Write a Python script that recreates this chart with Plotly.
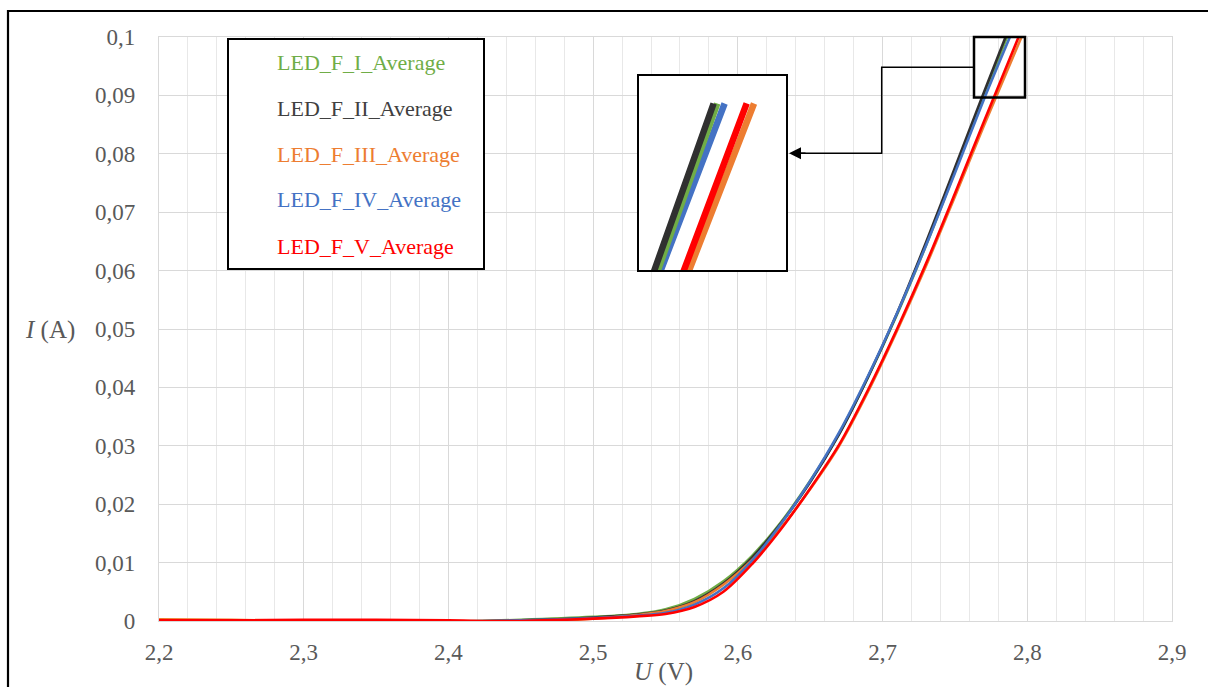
import plotly.graph_objects as go

# ---------------- data ----------------
U = [2.20, 2.25, 2.30, 2.35, 2.40, 2.45, 2.50, 2.53, 2.55, 2.57, 2.59,
     2.61, 2.63, 2.65, 2.67, 2.69, 2.71, 2.73, 2.75, 2.77]

I_F_I = [0.0000, 0.0000, -0.0001, -0.0001, -0.0001, 0.0002, 0.0007, 0.0012, 0.0020, 0.0038, 0.0068,
         0.0112, 0.0170, 0.0240, 0.0321, 0.0418, 0.0525, 0.0643, 0.0770, 0.0898]
I_F_II = [0.0000, 0.0000, 0.0000, -0.0001, -0.0001, 0.0001, 0.0006, 0.0011, 0.0018, 0.0034, 0.0064,
          0.0109, 0.0168, 0.0238, 0.0320, 0.0418, 0.0527, 0.0648, 0.0776, 0.0905]
I_F_III = [0.0003, 0.0002, 0.0000, -0.0002, -0.0003, -0.0003, 0.0004, 0.0010, 0.0017, 0.0032, 0.0062,
           0.0105, 0.0160, 0.0226, 0.0300, 0.0393, 0.0497, 0.0608, 0.0727, 0.0848]
I_F_IV = [-0.0001, -0.0001, -0.0001, -0.0001, -0.0001, 0.0001, 0.0005, 0.0009, 0.0014, 0.0028, 0.0056,
          0.0104, 0.0167, 0.0240, 0.0323, 0.0420, 0.0527, 0.0643, 0.0767, 0.0893]
I_F_V = [0.0001, 0.0001, 0.0002, 0.0002, 0.0001, 0.0000, 0.0004, 0.0008, 0.0012, 0.0024, 0.0050,
         0.0098, 0.0158, 0.0227, 0.0302, 0.0396, 0.0500, 0.0612, 0.0732, 0.0855]

# final point of each sweep (current limit reached)
U_end = [2.786, 2.785, 2.796, 2.788, 2.794]
I_end = 0.1

series_names = ["LED_F_I_Average", "LED_F_II_Average", "LED_F_III_Average",
                "LED_F_IV_Average", "LED_F_V_Average"]
series_values = [I_F_I, I_F_II, I_F_III, I_F_IV, I_F_V]
series_colors = ["#70ad47", "#303030", "#ed7d31", "#4472c4", "#ff0000"]
legend_colors = ["#70ad47", "#404040", "#ed7d31", "#4472c4", "#ff0000"]

x_ticks = [2.2, 2.3, 2.4, 2.5, 2.6, 2.7, 2.8, 2.9]
y_ticks = [0, 0.01, 0.02, 0.03, 0.04, 0.05, 0.06, 0.07, 0.08, 0.09, 0.1]

# ---------------- layout helpers ----------------
W, H = 1208, 687
L, R, T, B = 159, 1172, 37, 621
PW, PH = R - L, B - T


def px(xp):
    return (xp - L) / PW


def py(yp):
    return (B - yp) / PH


FONT = "Liberation Serif"
GRAY = "#595959"

fig = go.Figure()

# main traces
for name, vals, col, ue in zip(series_names, series_values, series_colors, U_end):
    fig.add_trace(go.Scatter(
        x=U + [ue], y=vals + [I_end], mode="lines", name=name,
        line=dict(color=col, width=2.6, shape="spline", smoothing=0.9),
        xaxis="x", yaxis="y", showlegend=False))

# inset (magnified top region)
inset_order = [2, 4, 3, 0, 1]
for i in inset_order:
    fig.add_trace(go.Scatter(
        x=U + [U_end[i]], y=series_values[i] + [I_end], mode="lines",
        line=dict(color=series_colors[i], width=6.5),
        xaxis="x2", yaxis="y2", showlegend=False, hoverinfo="skip"))

# inset box
ix0, ix1, iy0, iy1 = 639, 786, 270, 76

fig.update_layout(
    width=W, height=H, autosize=False,
    margin=dict(l=L, r=W - R, t=T, b=H - B),
    paper_bgcolor="white", plot_bgcolor="white",
    separators=",.",
    xaxis=dict(
        range=[2.2, 2.9], tickvals=x_ticks, ticktext=[str(v).replace(".", ",") for v in x_ticks],
        showgrid=True, gridcolor="#d9d9d9", gridwidth=1.3,
        minor=dict(dtick=0.02, tick0=2.2, showgrid=True, gridcolor="#e8e8e8", gridwidth=1),
        showline=True, linecolor="#d9d9d9", linewidth=1.3, mirror=True,
        zeroline=False, ticks="", ticklabelstandoff=10,
        tickfont=dict(family=FONT, size=23, color=GRAY), domain=[0, 1]),
    yaxis=dict(
        range=[0, 0.1], tickvals=y_ticks,
        ticktext=["0" if v == 0 else str(v).replace(".", ",") for v in y_ticks],
        showgrid=True, gridcolor="#d9d9d9", gridwidth=1.3,
        showline=True, linecolor="#d9d9d9", linewidth=1.3, mirror=True,
        zeroline=False, ticks="", ticklabelstandoff=18,
        tickfont=dict(family=FONT, size=23, color=GRAY), domain=[0, 1]),
    xaxis2=dict(domain=[px(ix0), px(ix1)], range=[2.7647, 2.8047], anchor="y2",
                showgrid=False, zeroline=False, showticklabels=False, ticks="",
                showline=True, mirror=True, linecolor="black", linewidth=2),
    yaxis2=dict(domain=[py(iy0), py(iy1)], range=[0.0897, 0.1017], anchor="x2",
                showgrid=False, zeroline=False, showticklabels=False, ticks="",
                showline=True, mirror=True, linecolor="black", linewidth=2),
)

shapes = []
# outer frame
shapes.append(dict(type="rect", xref="paper", yref="paper",
                   x0=px(8), x1=px(1230), y0=py(710), y1=py(11),
                   line=dict(color="black", width=2.2), fillcolor="rgba(0,0,0,0)"))
# legend box
shapes.append(dict(type="rect", xref="paper", yref="paper",
                   x0=px(228), x1=px(484), y0=py(269), y1=py(39),
                   line=dict(color="black", width=2), fillcolor="white"))
# zoom box
shapes.append(dict(type="rect", xref="paper", yref="paper",
                   x0=px(974), x1=px(1025), y0=py(97.5), y1=py(37),
                   line=dict(color="black", width=2.5), fillcolor="rgba(0,0,0,0)"))
# connector
shapes.append(dict(type="path", xref="paper", yref="paper",
                   path=f"M {px(974)} {py(67.3)} L {px(881.7)} {py(67.3)} "
                        f"L {px(881.7)} {py(153.3)} L {px(800)} {py(153.3)}",
                   line=dict(color="black", width=1.5)))
fig.update_layout(shapes=shapes)

annotations = []
# legend entries
leg_y = [63, 108.5, 154.5, 200, 246]
for name, col, yy in zip(series_names, legend_colors, leg_y):
    annotations.append(dict(xref="paper", yref="paper", x=px(275), y=py(yy),
                            xanchor="left", yanchor="middle", showarrow=False,
                            text=name, font=dict(family=FONT, size=22, color=col)))
# arrow head
annotations.append(dict(xref="paper", yref="paper", x=px(789), y=py(153.3),
                        ax=18, ay=0, axref="pixel", ayref="pixel", text="",
                        showarrow=True, arrowhead=2, arrowsize=1.6, arrowwidth=1.5,
                        arrowcolor="black"))
# axis titles
annotations.append(dict(xref="paper", yref="paper", x=px(663), y=py(672),
                        xanchor="center", yanchor="middle", showarrow=False,
                        text="<i>U</i> (V)", font=dict(family=FONT, size=25, color=GRAY)))
annotations.append(dict(xref="paper", yref="paper", x=px(50), y=py(330),
                        xanchor="center", yanchor="middle", showarrow=False,
                        text="<i>I</i> (A)", font=dict(family=FONT, size=25, color=GRAY)))
fig.update_layout(annotations=annotations)

fig.write_html("out.html")
